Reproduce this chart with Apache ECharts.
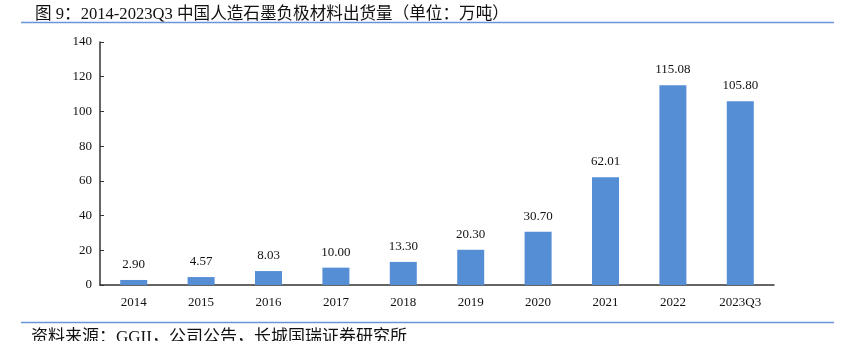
<!DOCTYPE html>
<html>
<head>
<meta charset="utf-8">
<script src="https://cdn.jsdelivr.net/npm/echarts@6/dist/echarts.min.js"></script>
<style>
html,body{margin:0;padding:0;background:#fff;}
#c{width:849px;height:341px;}
</style>
</head>
<body>
<div id="c"></div>
<script>
const categories = ['2014','2015','2016','2017','2018','2019','2020','2021','2022','2023Q3'];
const shipments = [2.90, 4.57, 8.03, 10.00, 13.30, 20.30, 30.70, 62.01, 115.08, 105.80];
const yTicks = [0, 20, 40, 60, 80, 100, 120, 140];
const titleText = '图 9：2014-2023Q3 中国人造石墨负极材料出货量（单位：万吨）';
const sourceText = '资料来源：GGII，公司公告，长城国瑞证券研究所';

const serif = '"Liberation Serif","DejaVu Serif",serif';
const cjk = '"Liberation Serif","Noto Sans CJK SC",serif';
const chart = echarts.init(document.getElementById('c'));
chart.setOption({
  animation: false,
  backgroundColor: '#fff',
  title: {
    text: titleText,
    left: 30, top: 1,
    textStyle: {fontFamily: cjk, fontSize: 16.6, fontWeight: 'normal', color: '#111'}
  },
  graphic: [
    {type: 'line', shape: {x1: 21, y1: 22.5, x2: 834, y2: 22.5}, style: {stroke: '#6a94d4', lineWidth: 1.5}},
    {type: 'line', shape: {x1: 21, y1: 322.5, x2: 834, y2: 322.5}, style: {stroke: '#6a94d4', lineWidth: 1.5}},
    {type: 'text', left: 31, top: 329, style: {text: sourceText, font: '17px ' + cjk, fill: '#111'}}
  ],
  grid: {left: 100, right: 75, top: 42, bottom: 56, containLabel: false},
  xAxis: {
    type: 'category',
    data: categories,
    axisLine: {lineStyle: {color: '#333', width: 1.5}},
    axisTick: {show: false},
    axisLabel: {fontFamily: serif, fontSize: 13, color: '#111', margin: 11}
  },
  yAxis: {
    type: 'value',
    min: yTicks[0], max: yTicks[yTicks.length - 1], interval: 20,
    splitLine: {show: false},
    axisLine: {show: true, lineStyle: {color: '#333', width: 1.5}},
    axisTick: {show: true, inside: true, length: 4, lineStyle: {color: '#333'}},
    axisLabel: {fontFamily: serif, fontSize: 13, color: '#111', margin: 8}
  },
  series: [{
    type: 'bar',
    data: shipments,
    barWidth: 27,
    itemStyle: {color: '#558ed5'},
    label: {
      show: true, position: 'top', distance: 9,
      fontFamily: serif, fontSize: 13, color: '#111',
      formatter: p => p.value.toFixed(2)
    }
  }]
});
</script>
</body>
</html>
